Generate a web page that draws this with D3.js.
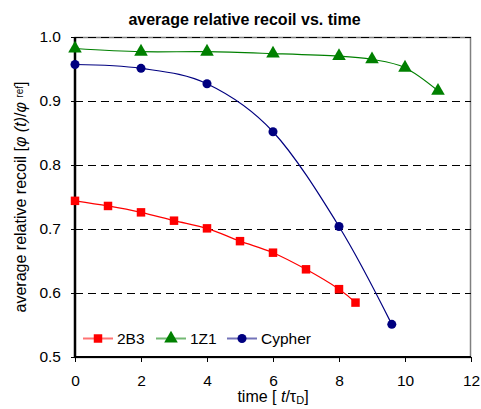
<!DOCTYPE html>
<html>
<head>
<meta charset="utf-8">
<script src="https://cdn.jsdelivr.net/npm/d3@7"></script>
<style>
  body { margin: 0; background: #fff; }
  svg { font-family: "Liberation Sans", Arial, sans-serif; }
</style>
</head>
<body>
<div class="chart"></div>
<script>
// data
var x2B3 = [0, 1, 2, 3, 4, 5, 6, 7, 8, 8.5];
var y2B3 = [0.744, 0.736, 0.726, 0.713, 0.701, 0.681, 0.663, 0.637, 0.606, 0.585];
var x1Z1 = [0, 2, 4, 6, 8, 9, 10, 11];
var y1Z1 = [0.982, 0.977, 0.977, 0.974, 0.970, 0.965, 0.952, 0.916];
var xCypher = [0, 2, 4, 6, 8, 9.6];
var yCypher = [0.957, 0.951, 0.927, 0.852, 0.704, 0.551];
var seriesNames = ["2B3", "1Z1", "Cypher"];
var xTicks = [0, 2, 4, 6, 8, 10, 12];
var yTicks = [0.5, 0.6, 0.7, 0.8, 0.9, 1.0];

var width = 481;
var height = 409;
// plot box (note: "top" is taken by window.top, so prefixed names)
var pLeft = 75, pRight = 471, pTop = 37, pBottom = 357;

var colors = ["#FF0000", "#008000", "#000080"];
var symbols = [d3.symbolSquare, d3.symbolTriangle, d3.symbolCircle];
var symSizes = [72, 80, 64];

var series = [
  {name: seriesNames[0], x: x2B3, y: y2B3},
  {name: seriesNames[1], x: x1Z1, y: y1Z1},
  {name: seriesNames[2], x: xCypher, y: yCypher}
];

var xScale = d3.scaleLinear().domain([0, 12]).range([pLeft, pRight]);
var yScale = d3.scaleLinear().domain([0.5, 1.0]).range([pBottom, pTop]);

var svg = d3.select(".chart")
            .append("svg")
            .attr("width", width)
            .attr("height", height);

// plot frame (top / right grey)
svg.append("rect")
   .attr("x", pLeft)
   .attr("y", pTop + 0.5)
   .attr("width", pRight - pLeft - 0.5)
   .attr("height", pBottom - pTop)
   .attr("fill", "none")
   .attr("stroke", "#808080")
   .attr("stroke-width", 1.5);

// dashed gridlines
svg.selectAll("line.grid")
   .data(yTicks.filter(d => d > 0.5))
   .enter()
   .append("line")
   .attr("class", "grid")
   .attr("x1", pLeft)
   .attr("x2", pRight)
   .attr("y1", d => Math.round(yScale(d)) + 0.5)
   .attr("y2", d => Math.round(yScale(d)) + 0.5)
   .attr("stroke", "#000")
   .attr("stroke-width", 1)
   .attr("stroke-dasharray", "8,5");

// axes
var xAxis = d3.axisBottom(xScale)
              .tickValues(xTicks)
              .tickSize(5)
              .tickPadding(13)
              .tickFormat(d3.format("d"));
var yAxis = d3.axisLeft(yScale)
              .tickValues(yTicks)
              .tickSize(4)
              .tickPadding(10)
              .tickFormat(d3.format(".1f"));

var gx = svg.append("g")
   .attr("transform", "translate(0," + pBottom + ")")
   .call(xAxis);
gx.select(".domain").attr("stroke-width", 2).attr("d", "M" + pLeft + ",0H" + pRight);
gx.selectAll("text").style("font-size", "15.5px").attr("fill", "#000");

var gy = svg.append("g")
   .attr("transform", "translate(" + pLeft + ",0)")
   .call(yAxis);
gy.select(".domain").attr("stroke-width", 2.5).attr("d", "M0," + pTop + "V" + pBottom);
gy.selectAll("text").style("font-size", "15.5px").attr("fill", "#000");

// lines + markers
var line = d3.line()
             .x(d => xScale(d[0]))
             .y(d => yScale(d[1]))
             .curve(d3.curveCardinal.tension(0));

series.forEach(function(s, i) {
  var pts = s.x.map((v, j) => [v, s.y[j]]);
  svg.append("path")
     .datum(pts)
     .attr("d", line)
     .attr("fill", "none")
     .attr("stroke", colors[i])
     .attr("stroke-width", 1.2);
  svg.selectAll("path.m" + i)
     .data(pts)
     .enter()
     .append("path")
     .attr("class", "m" + i)
     .attr("transform", d => "translate(" + xScale(d[0]) + "," + yScale(d[1]) + ")")
     .attr("d", d3.symbol().type(symbols[i]).size(symSizes[i]))
     .attr("fill", colors[i]);
});

// legend
var legX = [83, 156, 227];
var legY = 338.5;
series.forEach(function(s, i) {
  svg.append("line")
     .attr("x1", legX[i])
     .attr("x2", legX[i] + 30)
     .attr("y1", legY)
     .attr("y2", legY)
     .attr("stroke", colors[i])
     .attr("stroke-opacity", 0.55)
     .attr("stroke-width", 2);
  svg.append("path")
     .attr("transform", "translate(" + (legX[i] + 15) + "," + legY + ")")
     .attr("d", d3.symbol().type(symbols[i]).size(symSizes[i]))
     .attr("fill", colors[i]);
  svg.append("text")
     .attr("x", legX[i] + 34)
     .attr("y", legY)
     .attr("dy", "0.36em")
     .style("font-size", "15.5px")
     .text(s.name);
});

// title
svg.append("text")
   .attr("x", 244.5)
   .attr("y", 25)
   .attr("text-anchor", "middle")
   .style("font-size", "16px")
   .style("font-weight", "bold")
   .text("average relative recoil vs. time");

// x axis label
var xl = svg.append("text")
   .attr("x", (pLeft + pRight) / 2)
   .attr("y", 402)
   .attr("text-anchor", "middle")
   .style("font-size", "16px");
xl.append("tspan").text("time [ ");
xl.append("tspan").style("font-style", "italic").text("t");
xl.append("tspan").text("/\u03C4");
xl.append("tspan").attr("dy", 2).style("font-size", "11px").text("D");
xl.append("tspan").attr("dy", -2).text("]");

// y axis label
var yl = svg.append("text")
   .attr("transform", "translate(26," + ((pTop + pBottom) / 2) + ") rotate(-90)")
   .attr("text-anchor", "middle")
   .style("font-size", "16px");
yl.append("tspan").text("average relative recoil [");
yl.append("tspan").style("font-style", "italic").text("\u03C6 (t)");
yl.append("tspan").text("/");
yl.append("tspan").style("font-style", "italic").text("\u03C6 ");
yl.append("tspan").style("font-size", "10px").attr("dy", -3).text("ref");
yl.append("tspan").attr("dy", 3).text("]");
</script>
</body>
</html>
